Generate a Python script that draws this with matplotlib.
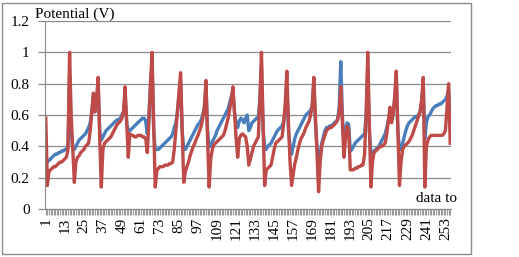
import matplotlib
matplotlib.use("Agg")
import matplotlib.pyplot as plt
from matplotlib.patches import Rectangle
import numpy as np

plt.rcParams['font.family'] = ['Liberation Serif', 'DejaVu Serif']

red_values = [
    0.58, 0.15, 0.24, 0.25, 0.26, 0.27, 0.27, 0.28, 0.29, 0.30, 0.30, 0.31, 0.32, 0.33, 0.38,
    1.00,
    0.60, 0.38, 0.17, 0.30, 0.33, 0.34, 0.36, 0.37, 0.38, 0.40, 0.41, 0.42, 0.50, 0.62, 0.74, 0.62, 0.70, 0.84, 0.45, 0.14,
    0.38, 0.42, 0.43, 0.44, 0.45, 0.46, 0.48, 0.50, 0.52, 0.54, 0.55, 0.56, 0.58, 0.62, 0.78, 0.55, 0.33,
    0.48, 0.47, 0.47, 0.46, 0.46, 0.47, 0.47, 0.47, 0.46, 0.46, 0.45, 0.36, 0.55, 0.80, 1.00, 0.55, 0.14,
    0.24, 0.26, 0.27, 0.27, 0.27, 0.28, 0.28, 0.28, 0.29, 0.29, 0.30, 0.38, 0.50, 0.62, 0.75, 0.87, 0.50, 0.17,
    0.24, 0.27, 0.30, 0.34, 0.37, 0.40, 0.42, 0.45, 0.47, 0.50, 0.53, 0.58, 0.65, 0.82, 0.45, 0.14,
    0.32, 0.38, 0.41, 0.42, 0.43, 0.44, 0.45, 0.46, 0.47, 0.50, 0.54, 0.58, 0.64, 0.70, 0.78, 0.62, 0.45,
    0.33, 0.45, 0.47, 0.48, 0.47, 0.46, 0.40, 0.28, 0.32, 0.36, 0.40, 0.42, 0.44, 0.46, 0.70, 1.00, 0.55, 0.15,
    0.25, 0.26, 0.27, 0.28, 0.33, 0.38, 0.42, 0.43, 0.44, 0.45, 0.46, 0.55, 0.68, 0.88, 0.55, 0.30, 0.15,
    0.22, 0.29, 0.33, 0.38, 0.42, 0.45, 0.47, 0.49, 0.52, 0.54, 0.56, 0.60, 0.66, 0.84, 0.60, 0.35, 0.11,
    0.30, 0.40, 0.44, 0.47, 0.50, 0.51, 0.52, 0.52, 0.53, 0.54, 0.55, 0.57, 0.62, 0.78, 0.55, 0.33, 0.45, 0.53, 0.50, 0.25,
    0.25, 0.25, 0.26, 0.26, 0.27, 0.27, 0.28, 0.28, 0.35, 0.60, 1.00, 0.55, 0.14,
    0.30, 0.36, 0.37, 0.38, 0.39, 0.40, 0.40, 0.41, 0.42, 0.48, 0.56, 0.65, 0.55, 0.60, 0.72, 0.88, 0.50, 0.15,
    0.30, 0.38, 0.40, 0.41, 0.42, 0.43, 0.45, 0.47, 0.50, 0.53, 0.56, 0.59, 0.62, 0.70, 0.84, 0.14,
    0.40, 0.44, 0.46, 0.47, 0.47, 0.47, 0.47, 0.47, 0.47, 0.47, 0.47, 0.48, 0.50, 0.65, 0.80, 0.42,
]

blue_values = [
    0.28, 0.30, 0.31, 0.32, 0.33, 0.34, 0.35, 0.35, 0.36, 0.36, 0.37, 0.37, 0.38, 0.38, 0.40,
    0.85,
    0.50, 0.38, 0.38, 0.40, 0.42, 0.44, 0.45, 0.46, 0.47, 0.48, 0.50, 0.52, 0.55, 0.62, 0.72, 0.62, 0.70, 0.80, 0.50, 0.44,
    0.46, 0.48, 0.50, 0.51, 0.52, 0.53, 0.54, 0.55, 0.56, 0.57, 0.57, 0.58, 0.60, 0.62, 0.72, 0.55, 0.50,
    0.50, 0.51, 0.52, 0.53, 0.54, 0.55, 0.56, 0.57, 0.58, 0.58, 0.56, 0.48, 0.60, 0.78, 0.92, 0.50, 0.38,
    0.38, 0.38, 0.39, 0.40, 0.41, 0.42, 0.43, 0.44, 0.45, 0.46, 0.48, 0.52, 0.55, 0.62, 0.72, 0.82, 0.50, 0.38,
    0.38, 0.40, 0.42, 0.44, 0.46, 0.48, 0.50, 0.52, 0.54, 0.55, 0.57, 0.60, 0.65, 0.78, 0.50, 0.40,
    0.40, 0.43, 0.45, 0.47, 0.50, 0.52, 0.54, 0.56, 0.58, 0.60, 0.62, 0.64, 0.68, 0.72, 0.75, 0.62, 0.55,
    0.52, 0.56, 0.58, 0.57, 0.55, 0.58, 0.60, 0.50, 0.52, 0.55, 0.56, 0.57, 0.58, 0.58, 0.70, 0.90, 0.50, 0.40,
    0.38, 0.40, 0.41, 0.42, 0.44, 0.46, 0.48, 0.50, 0.51, 0.52, 0.53, 0.56, 0.62, 0.80, 0.50, 0.40, 0.35,
    0.40, 0.45, 0.48, 0.50, 0.52, 0.54, 0.56, 0.58, 0.60, 0.61, 0.62, 0.63, 0.66, 0.80, 0.55, 0.40, 0.32,
    0.35, 0.42, 0.46, 0.50, 0.52, 0.52, 0.53, 0.53, 0.54, 0.55, 0.56, 0.57, 0.65, 0.94, 0.60, 0.42, 0.50, 0.55, 0.54, 0.37,
    0.38, 0.40, 0.42, 0.43, 0.44, 0.45, 0.46, 0.47, 0.48, 0.60, 0.90, 0.50, 0.36,
    0.36, 0.37, 0.38, 0.39, 0.40, 0.42, 0.44, 0.46, 0.48, 0.52, 0.57, 0.62, 0.58, 0.62, 0.70, 0.82, 0.50, 0.38,
    0.38, 0.42, 0.46, 0.50, 0.53, 0.55, 0.56, 0.57, 0.58, 0.59, 0.59, 0.60, 0.62, 0.68, 0.80, 0.45,
    0.55, 0.59, 0.60, 0.62, 0.64, 0.65, 0.66, 0.66, 0.67, 0.67, 0.68, 0.69, 0.70, 0.72, 0.76, 0.55,
]

categories = list(range(1, len(red_values) + 1))
tick_labels = [str(c) for c in categories[::12]]
y_ticks = [0, 0.2, 0.4, 0.6, 0.8, 1, 1.2]
y_tick_labels = ["0", "0.2", "0.4", "0.6", "0.8", "1", "1.2"]

W, H = 519, 257
fig = plt.figure(figsize=(W / 100, H / 100), dpi=100)
fig.patch.set_facecolor("white")

# outer border
fig.patches.append(Rectangle((2 / W, 3 / H), 469 / W, 251 / H, transform=fig.transFigure,
                             fill=False, edgecolor="#8c8c8c", linewidth=1.0))

ax = fig.add_axes([45 / W, (H - 209) / H, 406 / W, 188 / H])
x = np.arange(len(categories))
ax.plot(x, blue_values, color="#4A7EBB", linewidth=2.4, solid_joinstyle="round")
ax.plot(x, red_values, color="#BE4B48", linewidth=2.4, solid_joinstyle="round")

ax.set_xlim(-0.5, len(categories) - 0.5)
ax.set_ylim(0, 1.2)
ax.set_yticks(y_ticks)
ax.set_yticklabels(y_tick_labels, fontsize=11)
ax.yaxis.grid(True, color="#8a8a8a", linewidth=0.9)
ax.set_axisbelow(True)
ax.tick_params(axis="y", length=5, color="#8a8a8a", width=0.9, pad=6)

ax.set_xticks(x[::12])
ax.set_xticklabels(tick_labels, rotation=90, fontsize=11)
ax.set_xticks(x, minor=True)
ax.tick_params(axis="x", which="both", length=4, color="#9a9a9a", width=0.8, pad=2)

for s in ["top", "right"]:
    ax.spines[s].set_visible(False)
ax.spines["left"].set_color("#8a8a8a")
ax.spines["bottom"].set_color("#8a8a8a")

fig.text(35 / W, 1 - 14 / H, "Potential (V)", fontsize=11, va="center", ha="left")
fig.text(437 / W, 1 - 199 / H, "data to", fontsize=11, va="center", ha="center")

fig.savefig("out.png", dpi=100)
